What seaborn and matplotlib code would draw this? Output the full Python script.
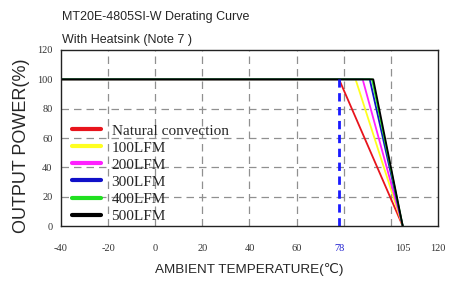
import matplotlib
matplotlib.use("Agg")
import matplotlib.pyplot as plt
import seaborn as sns
import pandas as pd
from matplotlib.lines import Line2D

series = ["Natural convection", "100LFM", "200LFM", "300LFM", "400LFM", "500LFM"]
colors = ["#e8141c", "#ffff20", "#ff20ff", "#1010c8", "#20e020", "#000000"]
break_temp = [78, 85, 88, 91, 92, 92.5]
start_temp = -40
end_temp = 105
full_power = 100
xtick_vals = [-40, -20, 0, 20, 40, 60, 78, 105, 120]
xtick_labels = ["-40", "-20", "0", "20", "40", "60", "78", "105", "120"]
ytick_vals = [0, 20, 40, 60, 80, 100, 120]
grid_x = [-20, 0, 20, 40, 60, 80, 100]
grid_y = [20, 40, 60, 80]

rows = []
for name, b in zip(series, break_temp):
    rows += [(name, start_temp, full_power), (name, b, full_power), (name, end_temp, 0)]
df = pd.DataFrame(rows, columns=["series", "temp", "power"])

sns.set_style("white")
fig = plt.figure(figsize=(4.54, 2.84), dpi=100)
ax = fig.add_axes([0.134, 0.204, 0.831, 0.62])

for gx in grid_x:
    ax.axvline(gx, color="#909090", lw=0.9, ls=(0, (6, 4)), zorder=0)
for gy in grid_y:
    ax.axhline(gy, color="#909090", lw=0.9, ls=(0, (6, 4)), zorder=0)

sns.lineplot(data=df, x="temp", y="power", hue="series", hue_order=series,
             palette=dict(zip(series, colors)), sort=False, estimator=None,
             lw=1.3, ax=ax, legend=False)
ax.plot([78, 78], [0, 100], color="#1a1aff", lw=2, ls=(0, (3, 2)))

ax.set_xlim(-40, 120)
ax.set_ylim(0, 120)
ax.set_xticks(xtick_vals)
ax.set_xticklabels(xtick_labels)
ax.set_yticks(ytick_vals)
for lab in ax.get_xticklabels() + ax.get_yticklabels():
    lab.set_family("Liberation Serif")
    lab.set_fontsize(7.5)
    lab.set_color("#333333")
ax.get_xticklabels()[6].set_color("#2020d0")
ax.tick_params(axis="x", length=0, pad=13)
ax.tick_params(axis="y", length=0, pad=6)
for s in ax.spines.values():
    s.set_color("#222222")
    s.set_linewidth(1.0)

ax.set_xlabel("AMBIENT TEMPERATURE(℃)", family=["Liberation Sans", "DejaVu Sans"],
              fontsize=9.7, labelpad=7)
ax.set_ylabel("OUTPUT POWER(%)", family="Liberation Sans", fontsize=13,
              va="center", ha="center")
ax.yaxis.set_label_coords(-0.103, 0.455)

handles = [Line2D([0], [0], color=c, lw=3) for c in colors]
ax.legend(handles, series, loc="lower left", bbox_to_anchor=(0.0, -0.043), frameon=False,
          prop={"family": "Liberation Serif", "size": 11}, handlelength=1.9,
          labelspacing=0.22, handletextpad=0.72, borderaxespad=0.3)

fig.text(62 / 454, 1 - 20 / 284, "MT20E-4805SI-W Derating Curve", family="Liberation Sans",
         fontsize=9, va="baseline")
fig.text(62 / 454, 1 - 43 / 284, "With Heatsink (Note 7 )", family="Liberation Sans",
         fontsize=9, va="baseline")

fig.savefig("out.png", dpi=100)
